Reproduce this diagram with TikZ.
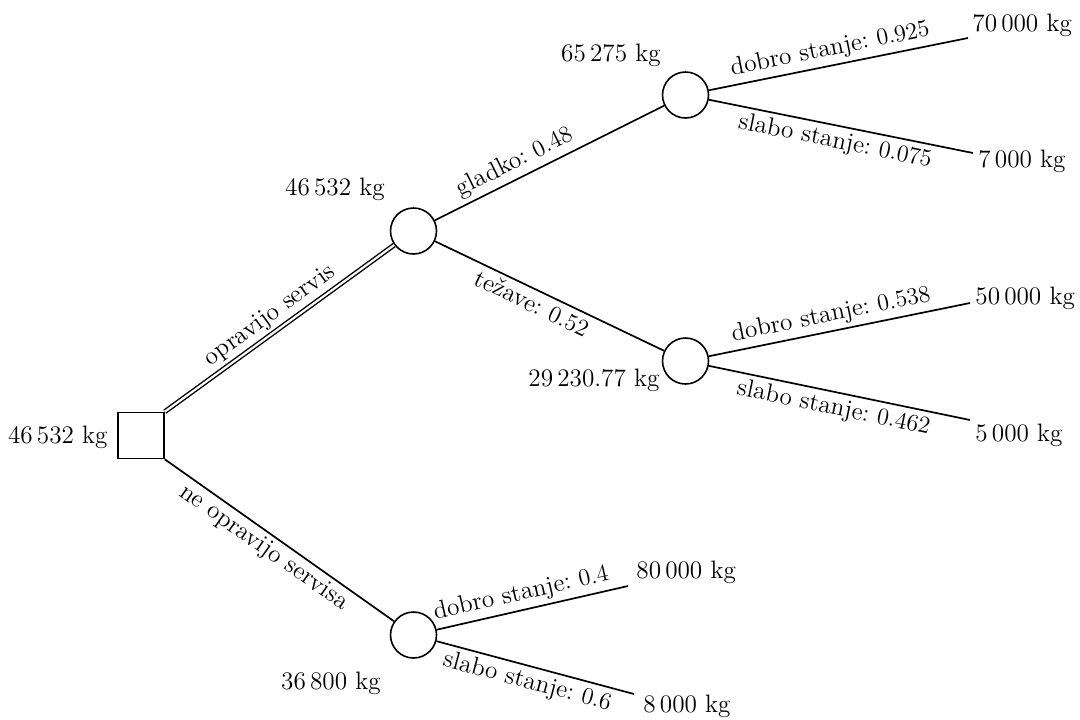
\documentclass[tikz,border=0pt]{standalone}
\begin{document}
\frenchspacing
\begin{tikzpicture}[x=0.5pt,y=-0.5pt,
  every node/.style={font=\fontsize{12.6}{15}\selectfont},
  chance/.style={draw,circle,line width=0.8pt,minimum size=23pt,inner sep=0pt},
  decision/.style={draw,rectangle,line width=0.8pt,minimum size=23pt,inner sep=0pt},
  branch/.style={line width=0.85pt},
  val/.style={inner sep=0pt},
  lab/.style={sloped,inner sep=2pt}]
\useasboundingbox (0,0) rectangle (1080,719);
\node[decision] (sq) at (141,435.5) {};
\node[chance] (c1) at (413.5,231) {};
\node[chance] (c2) at (685.5,95) {};
\node[chance] (c3) at (685.5,361) {};
\node[chance] (c4) at (413.5,635) {};
\coordinate (e1) at (968,38);
\coordinate (e2) at (973,153);
\coordinate (e3) at (970,303);
\coordinate (e4) at (970,420);
\coordinate (e5) at (628,586);
\coordinate (e6) at (634,694);
% values
\node[val,anchor=east] (v0) at (108,437) {46\,532~kg};
\node[val] (v1) at (335,189) {46\,532~kg};
\node[val] (v2) at (611,55) {65\,275~kg};
\node[val] (v3) at (594,380) {29\,230.77~kg};
\node[val] (v4) at (331,683) {36\,800~kg};
\node[val,anchor=west] (t1) at (972,25) {70\,000~kg};
\node[val,anchor=west] (t2) at (978,161) {7\,000~kg};
\node[val,anchor=west] (t3) at (975,298) {50\,000~kg};
\node[val,anchor=west] (t4) at (975,435) {5\,000~kg};
\node[val,anchor=west] (t5) at (636,572) {80\,000~kg};
\node[val,anchor=west] (t6) at (643,706) {8\,000~kg};
% branches
\draw[line width=0.7pt,double,double distance=1.1pt] (sq.north east) -- node[lab,above,pos=0.5] {opravijo servis} (c1);
\draw[branch] (sq.south east) -- node[lab,below,pos=0.47] {ne opravijo servisa} (c4);
\draw[branch] (c1) -- node[lab,above,pos=0.38] {gladko: $0.48$} (c2);
\draw[branch] (c1) -- node[lab,below,pos=0.45] {težave: $0.52$} (c3);
\draw[branch] (c2) -- node[lab,above,pos=0.48] {dobro stanje: $0.925$} (e1);
\draw[branch] (c2) -- node[lab,below,pos=0.49] {slabo stanje: $0.075$} (e2);
\draw[branch] (c3) -- node[lab,above,pos=0.48] {dobro stanje: $0.538$} (e3);
\draw[branch] (c3) -- node[lab,below,pos=0.49] {slabo stanje: $0.462$} (e4);
\draw[branch] (c4) -- node[lab,above,pos=0.46] {dobro stanje: $0.4$} (e5);
\draw[branch] (c4) -- node[lab,below,pos=0.48] {slabo stanje: $0.6$} (e6);
\end{tikzpicture}
\end{document}
